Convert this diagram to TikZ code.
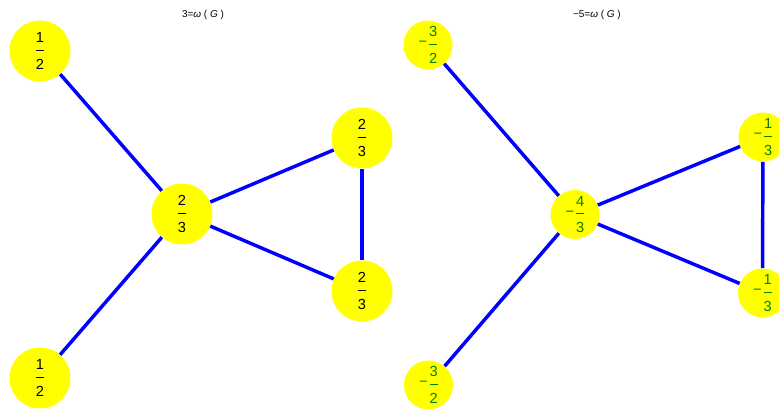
\documentclass[tikz,border=0pt]{standalone}
\usepackage{fontspec}
\setmainfont{Liberation Sans}
\usepackage{xcolor}
\usepackage{tikz}

\definecolor{vblue}{RGB}{0,0,255}
\definecolor{vyellow}{RGB}{255,255,0}
\definecolor{vgreen}{RGB}{0,128,0}

% stacked fraction as the reference prints it
\newcommand{\fr}[2]{$\vcenter{\offinterlineskip\halign{\hfil##\hfil\cr #1\cr\noalign{\kern5.4pt}\rule{6pt}{0.8pt}\cr\noalign{\kern6.3pt}#2\cr}}$}
\newcommand{\negfr}[2]{\raisebox{0.8pt}{$\vcenter{\hbox{−}}$}\kern1.5pt\fr{#1}{#2}}

\begin{document}
\begin{tikzpicture}[
  big/.style={circle, fill=vyellow, inner sep=0pt, minimum size=1.614cm, font=\fontsize{11}{13}\selectfont},
  small/.style={circle, fill=vyellow, inner sep=0pt, minimum size=1.296cm, text=vgreen, font=\fontsize{11}{13}\selectfont},
  edge/.style={vblue, line width=2.6pt},
  title/.style={font=\fontsize{7.5}{9}\selectfont}]
\useasboundingbox (0,0) rectangle (20.611,10.874);

\node[title] (tl) at (5.371, 10.477) {3=\textit{ω} ( \textit{G} )};
\node[title] (tr) at (15.795, 10.477) {−5=\textit{ω} ( \textit{G} )};

% left graph
\node[big] (a) at (1.058, 9.525) {\fr{1}{2}};
\node[big] (b) at (1.058, 0.873) {\fr{1}{2}};
\node[big] (c) at (4.815, 5.212) {\fr{2}{3}};
\node[big] (d) at (9.578, 7.223) {\fr{2}{3}};
\node[big] (e) at (9.578, 3.175) {\fr{2}{3}};

\draw[edge] (a) -- (c);
\draw[edge] (b) -- (c);
\draw[edge] (c) -- (d);
\draw[edge] (c) -- (e);
\draw[edge] (d) -- (e);

% right graph
\node[small] (ra) at (11.324, 9.684) {\negfr{3}{2}};
\node[small] (rb) at (11.337, 0.688) {\negfr{3}{2}};
\node[small] (rc) at (15.213, 5.199) {\negfr{4}{3}};
\node[small] (rd) at (20.187, 7.249) {\negfr{1}{3}};
\node[small] (re) at (20.174, 3.122) {\negfr{1}{3}};

\draw[edge] (ra) -- (rc);
\draw[edge] (rb) -- (rc);
\draw[edge] (rc) -- (rd);
\draw[edge] (rc) -- (re);
\draw[edge] (rd) -- (re);
\end{tikzpicture}
\end{document}
